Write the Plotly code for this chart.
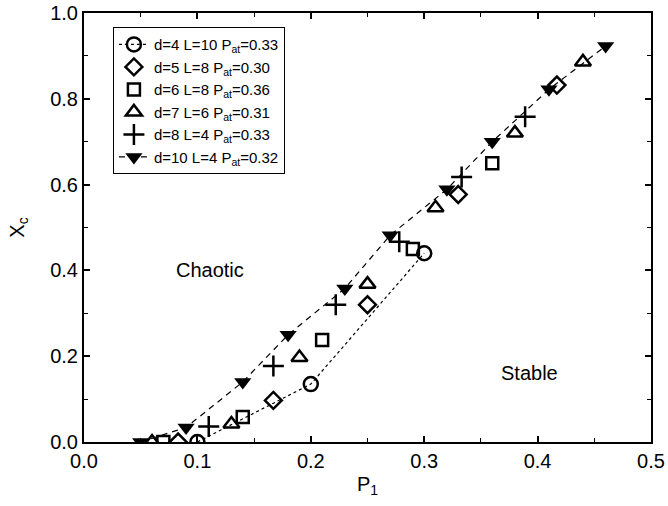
import plotly.graph_objects as go

# d=4 L=10
x_d4 = [0.1, 0.2, 0.3]
y_d4 = [0.0, 0.135, 0.44]
# d=5 L=8
x_d5 = [0.083, 0.167, 0.25, 0.33, 0.417]
y_d5 = [0.0, 0.097, 0.32, 0.577, 0.832]
# d=6 L=8
x_d6 = [0.07, 0.14, 0.21, 0.29, 0.36]
y_d6 = [0.0, 0.058, 0.238, 0.45, 0.65]
# d=7 L=6
x_d7 = [0.06, 0.13, 0.19, 0.25, 0.31, 0.38, 0.44]
y_d7 = [0.0, 0.042, 0.197, 0.368, 0.546, 0.72, 0.886]
# d=8 L=4
x_d8 = [0.11, 0.167, 0.222, 0.278, 0.333, 0.389]
y_d8 = [0.036, 0.177, 0.32, 0.467, 0.618, 0.758]
# d=10 L=4
x_d10 = [0.05, 0.09, 0.14, 0.18, 0.23, 0.27, 0.32, 0.36, 0.41, 0.46]
y_d10 = [0.0, 0.034, 0.14, 0.25, 0.358, 0.482, 0.589, 0.70, 0.822, 0.923]

names = [
    "d=4 L=10 P<sub>at</sub>=0.33",
    "d=5 L=8 P<sub>at</sub>=0.30",
    "d=6 L=8 P<sub>at</sub>=0.36",
    "d=7 L=6 P<sub>at</sub>=0.31",
    "d=8 L=4 P<sub>at</sub>=0.33",
    "d=10 L=4 P<sub>at</sub>=0.32",
]

FONT = "Liberation Sans, Arial, Helvetica, sans-serif"
fig = go.Figure()

fig.add_trace(go.Scatter(x=x_d4, y=y_d4, name=names[0], mode="lines+markers",
                         line=dict(color="black", width=1.2, dash="dot"),
                         marker=dict(symbol="circle-open", size=14, color="black",
                                     line=dict(width=2.5, color="black"))))
fig.add_trace(go.Scatter(x=x_d5, y=y_d5, name=names[1], mode="markers",
                         marker=dict(symbol="diamond-open", size=13, color="black",
                                     line=dict(width=2.5, color="black"))))
fig.add_trace(go.Scatter(x=x_d6, y=y_d6, name=names[2], mode="markers",
                         marker=dict(symbol="square-open", size=12, color="black",
                                     line=dict(width=2.5, color="black"))))
fig.add_trace(go.Scatter(x=x_d7, y=y_d7, name=names[3], mode="markers",
                         marker=dict(symbol="triangle-up-open", size=14, color="black",
                                     line=dict(width=2.5, color="black"))))
fig.add_trace(go.Scatter(x=x_d8, y=y_d8, name=names[4], mode="markers",
                         marker=dict(symbol="cross-thin-open", size=15, color="black",
                                     line=dict(width=2.5, color="black"))))
fig.add_trace(go.Scatter(x=x_d10, y=y_d10, name=names[5], mode="lines+markers",
                         line=dict(color="black", width=1.2, dash="6px,5px"),
                         marker=dict(symbol="triangle-down", size=15, color="black",
                                     line=dict(width=0, color="black"))))

axis_common = dict(
    showline=True, linecolor="black", linewidth=2, mirror="ticks",
    ticks="inside", ticklen=6, tickwidth=1.5, tickcolor="black",
    showgrid=False, zeroline=False, automargin=False,
    ticklabeloverflow="allow",
    tickfont=dict(family=FONT, size=20, color="black"),
)

fig.update_xaxes(range=[0, 0.5], dtick=0.1, tickformat=".1f",
                 minor=dict(dtick=0.05, ticks="inside", ticklen=4, tickcolor="black", tickwidth=1),
                 title=dict(text="P<sub>1</sub>", font=dict(family=FONT, size=20, color="black"),
                            standoff=6),
                 **axis_common)
fig.update_yaxes(range=[0, 1.0], dtick=0.2, tickformat=".1f",
                 minor=dict(dtick=0.1, ticks="inside", ticklen=4, tickcolor="black", tickwidth=1),
                 title=dict(text="X<sub>c</sub>", font=dict(family=FONT, size=20, color="black"),
                            standoff=20),
                 **axis_common)

fig.add_annotation(x=0.111, y=0.40, text="Chaotic", showarrow=False,
                   font=dict(family=FONT, size=20, color="black"))
fig.add_annotation(x=0.393, y=0.16, text="Stable", showarrow=False,
                   font=dict(family=FONT, size=20, color="black"))

fig.update_layout(
    width=668, height=506,
    margin=dict(l=84, r=17, t=13, b=64),
    paper_bgcolor="white", plot_bgcolor="white",
    font=dict(family=FONT, color="black"),
    showlegend=True,
    legend=dict(x=0.051, y=0.967, xanchor="left", yanchor="top",
                bgcolor="white", bordercolor="black", borderwidth=1,
                font=dict(family=FONT, size=15, color="black"),
                tracegroupgap=0, itemwidth=30),
)

fig.write_html("out.html", config={"displayModeBar": False},
               post_script="document.body.style.margin='0';document.body.style.overflow='hidden';")
